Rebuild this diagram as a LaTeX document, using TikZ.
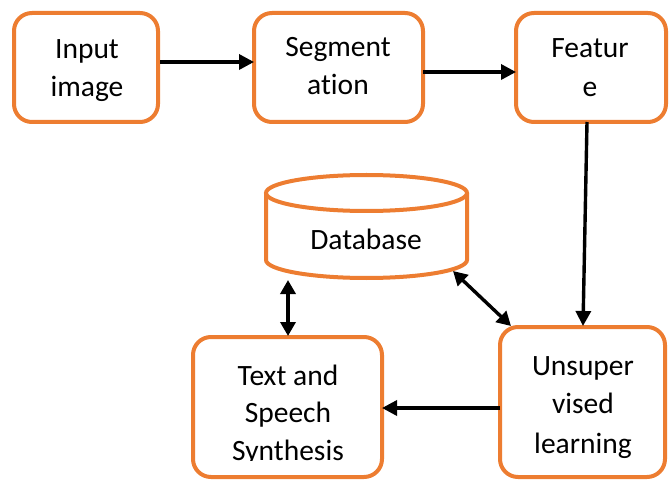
\documentclass[tikz,border=0pt]{standalone}
\usepackage{fontspec}
\setmainfont{Carlito}[Ligatures=NoCommon]
\usetikzlibrary{arrows.meta}
\definecolor{boxorange}{RGB}{237,125,49}
\tikzset{
  procbox/.style={draw=boxorange, line width=4bp, rounded corners=18bp, fill=white},
  lbl/.style={anchor=base, inner sep=0pt, font=\fontsize{29.5bp}{38bp}\selectfont},
  conn/.style={line width=3.4bp, -{Triangle[length=15bp,width=15bp]}},
  biconn/.style={line width=3.4bp, {Triangle[length=14bp,width=15bp]}-{Triangle[length=14bp,width=15bp]}}
}
\begin{document}
\begin{tikzpicture}[x=1bp,y=-1bp]
\useasboundingbox (0,0) rectangle (670,480);
% boxes
\draw[procbox] (14,13) rectangle (158,122);
\draw[procbox] (254,13) rectangle (423,122);
\draw[procbox] (516,13) rectangle (666,122);
\draw[procbox] (500,327) rectangle (665,477);
\draw[procbox] (193,337) rectangle (382,477);
% database cylinder
\draw[draw=boxorange, line width=4bp, fill=white]
  (266,193) -- (266,260) arc[start angle=180,end angle=360,x radius=100.5,y radius=-18] -- (467,193);
\draw[draw=boxorange, line width=4bp] (366.5,193) ellipse[x radius=100.5, y radius=18];
% labels
\node[lbl] (t1a) at (87,59) {Input};
\node[lbl] (t1b) at (87,97) {image};
\node[lbl] (t2a) at (338,57) {Segment};
\node[lbl] (t2b) at (338,95) {ation};
\node[lbl] (t3a) at (590,58) {Featur};
\node[lbl] (t3b) at (590,97) {e};
\node[lbl] (t4a) at (583,375) {Unsuper};
\node[lbl] (t4b) at (583,413) {vised};
\node[lbl] (t4c) at (583,453) {learning};
\begin{scope}
\clip (266,200) rectangle (467,249.5);
\node[lbl] (db) at (366,250) {Database};
\end{scope}
\node[lbl] (t5a) at (288,385) {Text and};
\node[lbl] (t5b) at (288,422) {Speech};
\begin{scope}
\clip (193,420) rectangle (382,460);
\node[lbl] (t5c) at (288,460) {Synthesis};
\end{scope}
% connector endpoints
\coordinate (a1s) at (160,62);  \coordinate (a1e) at (254,62);
\coordinate (a2s) at (423,72);  \coordinate (a2e) at (516,72);
\coordinate (a3s) at (587,122); \coordinate (a3e) at (583,326);
\coordinate (a4s) at (500,408); \coordinate (a4e) at (382,408);
\coordinate (a5s) at (288,280); \coordinate (a5e) at (288,336);
\coordinate (a6s) at (453,271); \coordinate (a6e) at (511,326);
\draw[conn] (a1s) -- (a1e);
\draw[conn] (a2s) -- (a2e);
\draw[conn] (a3s) -- (a3e);
\draw[conn] (a4s) -- (a4e);
\draw[biconn] (a5s) -- (a5e);
\draw[biconn] (a6s) -- (a6e);
\end{tikzpicture}
\end{document}
